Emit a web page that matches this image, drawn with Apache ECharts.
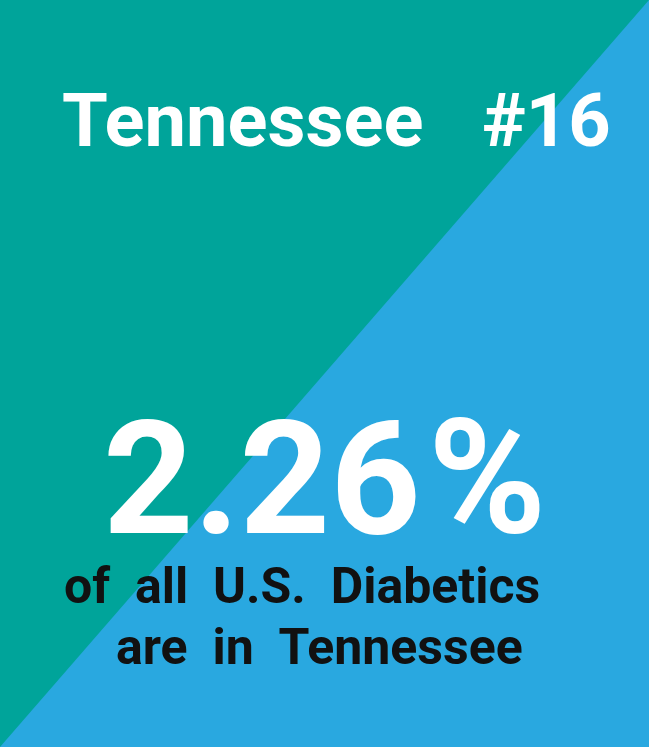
<!DOCTYPE html>
<html><head><meta charset="utf-8">
<script src="https://cdn.jsdelivr.net/npm/echarts@6/dist/echarts.min.js"></script>
<style>html,body{margin:0;padding:0}#chart{width:649px;height:747px}</style>
</head><body><div id="chart"></div>
<script>
var stateName = 'Tennessee';
var stateRank = 16;
var sharePct = 2.26;
var captionLines = ['of  all  U.S.  Diabetics', 'are  in  ' + stateName];

var dom = document.getElementById('chart');
var myChart = echarts.init(dom);
var font = 'Roboto';
var option = {
    backgroundColor: '#29A8E0',
    graphic: [
        {type: 'polygon', shape: {points: [[0, 0], [649, 0], [0, 747]]}, style: {fill: '#00A49A'}},
        {type: 'text', left: 62, top: 90, style: {text: stateName, fill: '#fff', font: 'bold 74px ' + font}},
        {type: 'text', left: 482, top: 90, style: {text: '#' + stateRank, fill: '#fff', font: 'bold 74px ' + font}},
        {type: 'text', left: 103, top: 414, style: {text: sharePct.toFixed(2), fill: '#fff', font: 'bold 158px ' + font}},
        {type: 'text', left: 428, top: 412, style: {text: '%', fill: '#fff', font: 'bold 160px ' + font}},
        {type: 'text', left: 64, top: 565, style: {text: captionLines[0], fill: '#111', font: 'bold 50px ' + font}},
        {type: 'text', left: 116, top: 626, style: {text: captionLines[1], fill: '#111', font: 'bold 50px ' + font}}
    ]
};
myChart.setOption(option, true);
</script></body></html>
